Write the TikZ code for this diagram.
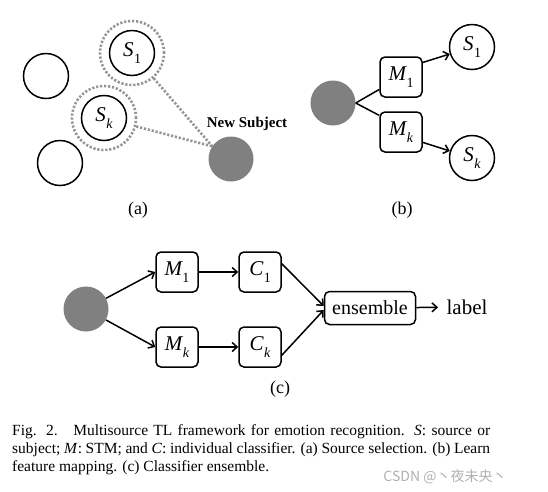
\documentclass[tikz,border=0pt]{standalone}
\usepackage{fontspec}
\setmainfont{Liberation Serif}
\newfontfamily\cjkfont{Noto Sans CJK SC}
\usetikzlibrary{arrows.meta,calc}
\definecolor{ringgray}{HTML}{959595}
\definecolor{subjgray}{HTML}{808080}
\definecolor{markgray}{HTML}{B0B0B0}
\newcommand{\vsub}[2]{{\itshape #1}\kern0.5pt\raisebox{-0.3em}{\fontsize{14}{14}\selectfont #2}}
\begin{document}
\begin{tikzpicture}[x=1pt,y=-1pt,
  circ/.style={circle,draw,line width=1.5pt,minimum size=45pt,inner sep=0pt,font=\fontsize{21}{22}\selectfont},
  gcirc/.style={circle,fill=subjgray,minimum size=45pt,inner sep=0pt},
  ring/.style={circle,draw=ringgray,line width=2.6pt,dash pattern=on 2.2pt off 1.8pt,minimum size=64pt,inner sep=0pt},
  dline/.style={draw=ringgray,line width=2.6pt,dash pattern=on 2.2pt off 1.8pt},
  mbox/.style={draw,rounded corners=5pt,line width=1.5pt,minimum width=42pt,minimum height=40pt,inner sep=0pt,font=\fontsize{21}{22}\selectfont},
  arr/.style={line width=1.5pt,-{Straight Barb[length=5pt,width=9pt]}},
  ln/.style={line width=1.5pt},
  lab/.style={font=\fontsize{18}{20}\selectfont}
]
\useasboundingbox (0,0) rectangle (548,491);
% (a)
\node[circ] (ea) at (46,76) {};
\node[circ] (eb) at (60,163) {};
\node[circ] (aS1) at (132,53) {\vsub{S}{1}};
\node[ring] (aS1r) at (132,53) {};
\node[circ] (aSk) at (104,118) {\vsub{S}{\itshape k}};
\node[ring] (aSkr) at (104,118) {};
\node[gcirc] (ns) at (231,159) {};
\node[font=\fontsize{15}{17}\selectfont\bfseries] (nsl) at (247,124) {New Subject};
\draw[dline] (aS1r) -- (ns.146);
\draw[dline] (aSkr) -- (ns.146);
\node[lab] (la) at (138,210) {(a)};
% (b)
\node[gcirc] (bg) at (333,103) {};
\node[mbox] (bM1) at (401,77) {\vsub{M}{1}};
\node[mbox] (bMk) at (401,132) {\vsub{M}{\itshape k}};
\node[circ] (bS1) at (472,47) {\vsub{S}{1}};
\node[circ] (bSk) at (472,158) {\vsub{S}{\itshape k}};
\draw[ln] (bg.east) -- ($(bM1.south west)!0.2!(bM1.north west)$);
\draw[ln] (bg.east) -- ($(bMk.north west)!0.1!(bMk.south west)$);
\draw[arr] ($(bM1.north east)!0.15!(bM1.south east)$) -- (bS1);
\draw[arr] ($(bMk.south east)!0.25!(bMk.north east)$) -- (bSk);
\node[lab] (lb) at (402,210) {(b)};
% (c)
\node[gcirc] (cg) at (86,309) {};
\node[mbox] (cM1) at (177,272) {\vsub{M}{1}};
\node[mbox] (cC1) at (260,272) {\vsub{C}{1}};
\node[mbox] (cMk) at (177,347) {\vsub{M}{\itshape k}};
\node[mbox] (cCk) at (260,347) {\vsub{C}{\itshape k}};
\node[draw,rounded corners=5pt,line width=1.5pt,minimum width=91pt,minimum height=33pt,inner sep=0pt,font=\fontsize{20}{22}\selectfont] (ens) at (370,308) {ensemble};
\node[font=\fontsize{21}{23}\selectfont] (lbl) at (467,307) {label};
\draw[arr] (cg) -- (cM1.west);
\draw[arr] (cg) -- (cMk.west);
\draw[arr] (cM1) -- (cC1);
\draw[arr] (cMk) -- (cCk);
\draw[arr] ($(cC1.north east)!0.3!(cC1.south east)$) -- ($(ens.west)+(0,-2)$);
\draw[arr] ($(cCk.south east)!0.3!(cCk.north east)$) -- ($(ens.west)+(0,2)$);
\draw[arr,shorten >=5pt] (ens) -- (lbl);
\node[lab] (lc) at (280,389) {(c)};
% caption
\node[anchor=north west,text width=478pt,align=justify,inner sep=0pt,font=\fontsize{15.5}{18}\selectfont] (cap) at (12,424) {Fig. 2.\quad Multisource TL framework for emotion recognition. \textit{S}: source or\linebreak subject; \textit{M}: STM; and \textit{C}: individual classifier. (a) Source selection. (b) Learn\linebreak feature mapping. (c) Classifier ensemble.};
\node[font=\cjkfont\fontsize{14}{16}\selectfont,text=markgray] (wm) at (445,477) {CSDN @丶夜未央丶};
\end{tikzpicture}
\end{document}
